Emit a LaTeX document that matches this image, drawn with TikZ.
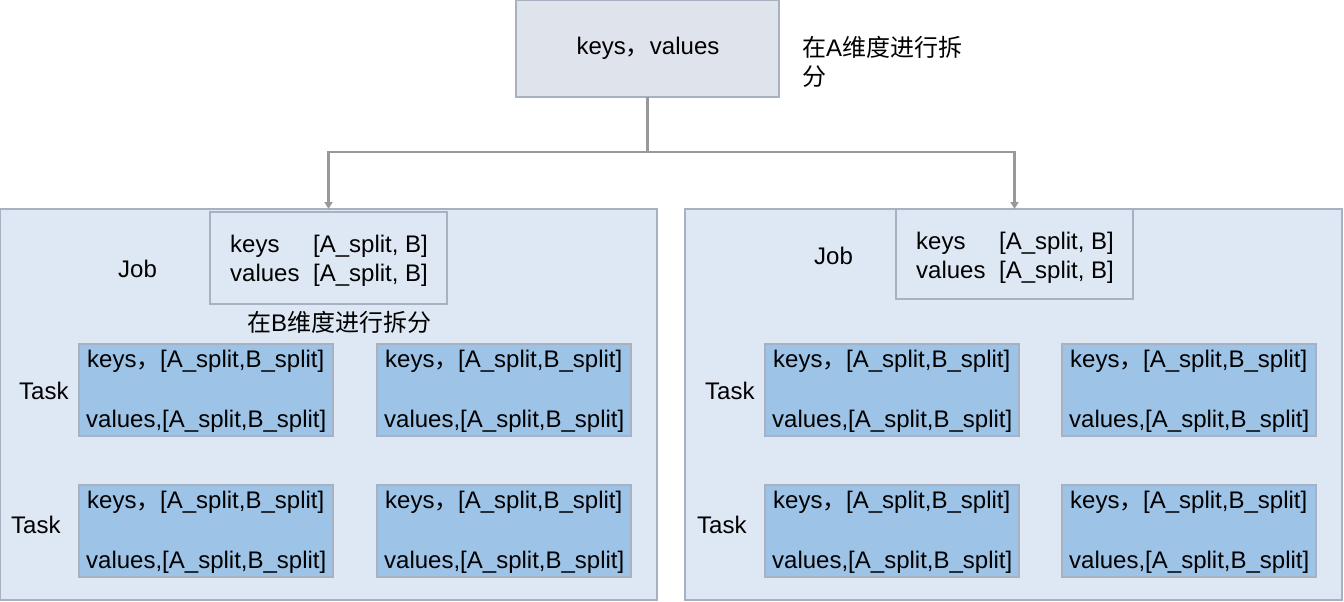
\documentclass[tikz,border=0pt]{standalone}
\usepackage{fontspec}
\setmainfont{Liberation Sans}
\newfontfamily\cjk{Noto Sans CJK SC}
\usetikzlibrary{arrows.meta,calc}
\definecolor{topfill}{HTML}{DFE3EC}
\definecolor{panelfill}{HTML}{DEE8F4}
\definecolor{taskfill}{HTML}{9DC3E6}
\definecolor{boxline}{HTML}{A7B1C2}
\definecolor{connline}{HTML}{999999}
\tikzset{
  box/.style={draw=boxline, line width=1.2pt, anchor=north west, inner sep=0pt, outer sep=0pt},
  txt/.style={inner sep=0pt, anchor=base west, font=\fontsize{24}{28}\selectfont},
  conn/.style={draw=connline, line width=2.4pt, -{Triangle[width=8pt,length=7pt]}},
}
\newcommand{\taskbox}[3]{%
  \node[box, fill=taskfill, minimum width=254pt, minimum height=92pt] (#1) at (#2,#3) {};
  \node[txt] (#1k) at ([xshift=8pt,yshift=-23pt]#1.north west) {keys{\cjk ，}};
  \node[txt] (#1kv) at ([xshift=81pt,yshift=-23pt]#1.north west) {[A\_split,B\_split]};
  \node[txt] (#1v) at ([xshift=7pt,yshift=-83pt]#1.north west) {values,[A\_split,B\_split]};
}
\begin{document}
\begin{tikzpicture}[x=1pt,y=-1pt]
\useasboundingbox (0,0) rectangle (1344,602);
% top
\node[box, fill=topfill, minimum width=263pt, minimum height=97pt] (top) at (516,0) {};
\node[txt, anchor=base] (toptxt) at (648,55) {keys{\cjk ，}values};
\node[txt] (alab1) at (802,57) {{\cjk 在}A{\cjk 维度进行拆}};
\node[txt] (alab2) at (802,85) {\cjk 分};
% panels
\node[box, fill=panelfill, minimum width=657pt, minimum height=391pt] (panelL) at (0,209) {};
\node[box, fill=panelfill, minimum width=657pt, minimum height=391pt] (panelR) at (685,209) {};
% job boxes
\node[box, fill=panelfill, minimum width=237pt, minimum height=92pt] (jobL) at (210,212) {};
\node[box, fill=panelfill, minimum width=237pt, minimum height=90pt] (jobR) at (896,209) {};
\node[txt] (jobLlab) at (118,277) {Job};
\node[txt] (jobRlab) at (814,264) {Job};
\node[txt] (jLk) at (230,252) {keys};
\node[txt] (jLkv) at (313,252) {[A\_split, B]};
\node[txt] (jLv) at (230,281) {values};
\node[txt] (jLvv) at (313,281) {[A\_split, B]};
\node[txt] (jRk) at (916,249) {keys};
\node[txt] (jRkv) at (999,249) {[A\_split, B]};
\node[txt] (jRv) at (916,278) {values};
\node[txt] (jRvv) at (999,278) {[A\_split, B]};
\node[txt] (blab) at (247,331) {{\cjk 在}B{\cjk 维度进行拆分}};
% tasks
\taskbox{tL1}{79}{344}
\taskbox{tL2}{377}{344}
\taskbox{tL3}{79}{485}
\taskbox{tL4}{377}{485}
\taskbox{tR1}{765}{344}
\taskbox{tR2}{1062}{344}
\taskbox{tR3}{765}{485}
\taskbox{tR4}{1062}{485}
\node[txt] (taskL1) at (19,399) {Task};
\node[txt] (taskL2) at (11,533) {Task};
\node[txt] (taskR1) at (705,399) {Task};
\node[txt] (taskR2) at (697,533) {Task};
% connectors
\coordinate (split) at ($(top.south)+(0,55)$);
\draw[conn] (top.south) -- (split) -| (jobL.north |- panelL.north);
\draw[conn] (top.south) -- (split) -| (jobR.north);
\end{tikzpicture}
\end{document}
